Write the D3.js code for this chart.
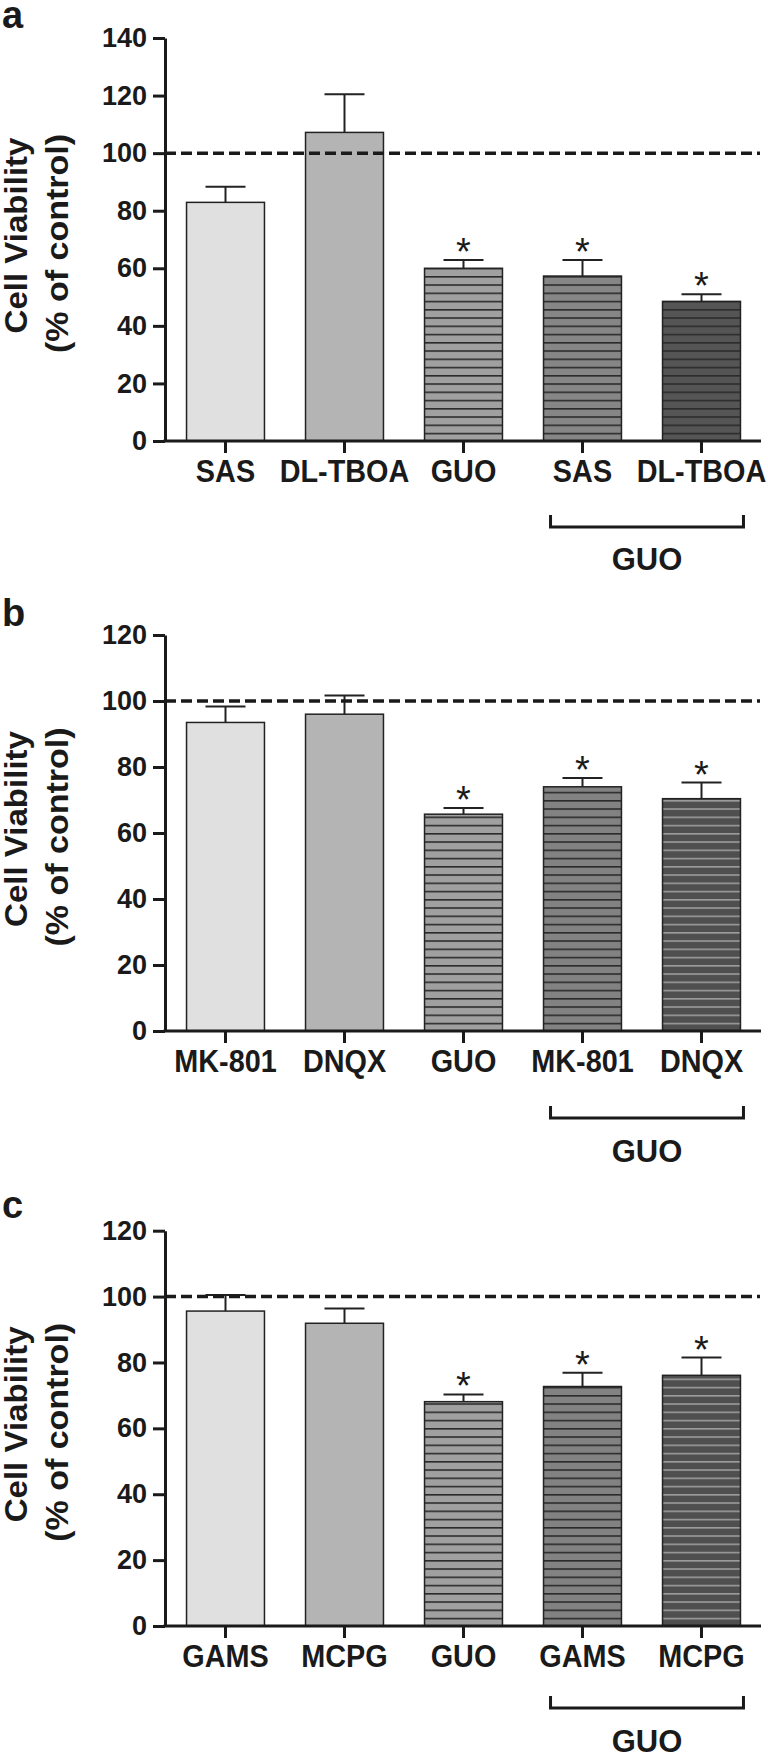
<!DOCTYPE html>
<html>
<head>
<meta charset="utf-8">
<script src="https://d3js.org/d3.v7.min.js"></script>
<style>
  body { margin: 0; background: #fff; }
  svg text { font-family: "Liberation Sans", Arial, sans-serif; font-weight: bold; fill: #1a1a1a; }
</style>
</head>
<body>
<div id="container"></div>
<script>
// ---- data ----
const labelsA = ['SAS', 'DL-TBOA', 'GUO', 'SAS', 'DL-TBOA'];
const meanA = [82.9, 107.2, 60.0, 57.3, 48.5];
const semA = [5.4, 13.3, 2.9, 5.6, 2.5];

const labelsB = ['MK-801', 'DNQX', 'GUO', 'MK-801', 'DNQX'];
const meanB = [93.5, 96.0, 65.7, 74.0, 70.4];
const semB = [4.8, 5.7, 1.9, 2.7, 4.9];

const labelsC = ['GAMS', 'MCPG', 'GUO', 'GAMS', 'MCPG'];
const meanC = [95.6, 91.9, 68.1, 72.7, 76.1];
const semC = [4.9, 4.5, 2.2, 4.2, 5.4];

const starred = [false, false, true, true, true];
const ticksA = [0, 20, 40, 60, 80, 100, 120, 140];
const ticksBC = [0, 20, 40, 60, 80, 100, 120];
const controlLevel = 100;
const groupLabel = 'GUO';
const yTitle1 = 'Cell Viability';
const yTitle2 = '(% of control)';

const w = 768, h = 1758;
const axisX = 165;
const squeeze = 0.93;   // category labels are a little condensed in the figure

const svg = d3.select('#container').append('svg')
    .attr('width', w)
    .attr('height', h);

const panels = [
    {id: 'a', labels: labelsA, mean: meanA, sem: semA, ticks: ticksA, top: 38, base: 441, letterY: 28,
     brk: 86, grp: 129,
     fills: ['#e0e0e0', '#b4b4b4', '#a0a0a0', '#868686', '#555555'],
     stripes: [null, null, '#2b2b2b', '#2b2b2b', '#2b2b2b']},
    {id: 'b', labels: labelsB, mean: meanB, sem: semB, ticks: ticksBC, top: 635, base: 1031, letterY: 626,
     brk: 87, grp: 131,
     fills: ['#e0e0e0', '#b4b4b4', '#a0a0a0', '#828282', '#4f4f4f'],
     stripes: [null, null, '#2b2b2b', '#2b2b2b', '#9c9c9c']},
    {id: 'c', labels: labelsC, mean: meanC, sem: semC, ticks: ticksBC, top: 1230.7, base: 1626, letterY: 1218,
     brk: 82, grp: 126,
     fills: ['#e0e0e0', '#b4b4b4', '#a0a0a0', '#828282', '#4f4f4f'],
     stripes: [null, null, '#2b2b2b', '#2b2b2b', '#9c9c9c']}
];

const defs = svg.append('defs');

panels.forEach(p => {
    const g = svg.append('g');
    const idx = d3.range(p.labels.length);

    const xScale = d3.scaleBand()
        .domain(idx)
        .range([166, 761])
        .paddingInner(0.345)
        .paddingOuter(0.1725);
    const yScale = d3.scaleLinear()
        .domain([0, d3.max(p.ticks)])
        .range([p.base, p.top]);

    // striped fills, tiles start at the baseline
    idx.forEach(i => {
        if (!p.stripes[i]) return;
        const pat = defs.append('pattern')
            .attr('id', 'st-' + p.id + i)
            .attr('patternUnits', 'userSpaceOnUse')
            .attr('x', 0)
            .attr('y', p.base)
            .attr('width', 20)
            .attr('height', 8.25);
        pat.append('rect').attr('width', 20).attr('height', 8.25).attr('fill', p.fills[i]);
        pat.append('rect').attr('y', 0).attr('width', 20).attr('height', 1.6).attr('fill', p.stripes[i]);
    });

    // bars
    g.selectAll('rect.bar')
        .data(idx)
        .enter()
        .append('rect')
        .attr('class', 'bar')
        .attr('x', i => xScale(i))
        .attr('width', xScale.bandwidth())
        .attr('y', i => yScale(p.mean[i]))
        .attr('height', i => yScale(0) - yScale(p.mean[i]))
        .attr('fill', i => p.stripes[i] ? 'url(#st-' + p.id + i + ')' : p.fills[i])
        .attr('stroke', '#222')
        .attr('stroke-width', 1.5);

    // error bars (upper only)
    const cx = i => xScale(i) + xScale.bandwidth() / 2;
    g.selectAll('line.err')
        .data(idx)
        .enter()
        .append('line')
        .attr('x1', cx).attr('x2', cx)
        .attr('y1', i => yScale(p.mean[i]))
        .attr('y2', i => yScale(p.mean[i] + p.sem[i]))
        .attr('stroke', '#222').attr('stroke-width', 2);
    g.selectAll('line.cap')
        .data(idx)
        .enter()
        .append('line')
        .attr('x1', i => cx(i) - 20).attr('x2', i => cx(i) + 20)
        .attr('y1', i => yScale(p.mean[i] + p.sem[i]))
        .attr('y2', i => yScale(p.mean[i] + p.sem[i]))
        .attr('stroke', '#222').attr('stroke-width', 2);

    // asterisks
    g.selectAll('text.star')
        .data(idx.filter(i => starred[i]))
        .enter()
        .append('text')
        .attr('x', cx)
        .attr('y', i => yScale(p.mean[i] + p.sem[i]) + 5)
        .attr('text-anchor', 'middle')
        .style('font-size', '38px')
        .style('font-weight', 'normal')
        .text('*');

    // control level
    g.append('line')
        .attr('x1', axisX).attr('x2', 760)
        .attr('y1', yScale(controlLevel)).attr('y2', yScale(controlLevel))
        .attr('stroke', '#1a1a1a')
        .attr('stroke-width', 3.5)
        .attr('stroke-dasharray', '11,5');

    // axes
    const yAxis = d3.axisLeft(yScale).tickValues(p.ticks).tickSize(12).tickSizeOuter(0).tickPadding(6);
    const ya = g.append('g').attr('transform', 'translate(' + axisX + ',0)').call(yAxis);
    ya.select('.domain').attr('stroke', '#1a1a1a').attr('stroke-width', 3);
    ya.selectAll('.tick line').attr('stroke', '#1a1a1a').attr('stroke-width', 3);
    ya.selectAll('.tick text').style('font-size', '27px').attr('fill', '#1a1a1a');

    const xAxis = d3.axisBottom(xScale).tickSize(12).tickSizeOuter(0).tickPadding(7)
        .tickFormat(i => p.labels[i]);
    const xa = g.append('g').attr('transform', 'translate(0,' + p.base + ')').call(xAxis);
    xa.select('.domain').attr('d', 'M' + (axisX - 1.5) + ',0H761').attr('stroke', '#1a1a1a').attr('stroke-width', 3);
    xa.selectAll('.tick line').attr('stroke', '#1a1a1a').attr('stroke-width', 3);
    xa.selectAll('.tick text')
        .style('font-size', '31px')
        .attr('fill', '#1a1a1a')
        .attr('transform', 'scale(' + squeeze + ',1)');

    // bracket under the GUO-combined groups
    const bx1 = xScale(3) + 7;
    const bx2 = xScale(4) + xScale.bandwidth() + 3;
    g.append('path')
        .attr('d', 'M' + bx1 + ',' + (p.base + p.brk - 12) + 'V' + (p.base + p.brk) + 'H' + bx2 + 'V' + (p.base + p.brk - 12))
        .attr('fill', 'none')
        .attr('stroke', '#1a1a1a')
        .attr('stroke-width', 3);
    g.append('text')
        .attr('x', (bx1 + bx2) / 2)
        .attr('y', p.base + p.grp)
        .attr('text-anchor', 'middle')
        .style('font-size', '31px')
        .text(groupLabel);

    // y title (stretched along its length like the figure)
    const midY = (p.base + p.top) / 2;
    g.append('text')
        .attr('transform', 'translate(27,' + (midY - 4) + ') rotate(-90)')
        .attr('text-anchor', 'middle')
        .attr('textLength', 196)
        .attr('lengthAdjust', 'spacingAndGlyphs')
        .style('font-size', '31px')
        .text(yTitle1);
    g.append('text')
        .attr('transform', 'translate(68,' + (midY + 4) + ') rotate(-90)')
        .attr('text-anchor', 'middle')
        .attr('textLength', 219)
        .attr('lengthAdjust', 'spacingAndGlyphs')
        .style('font-size', '31px')
        .text(yTitle2);

    // panel letter
    svg.append('text')
        .attr('x', 2)
        .attr('y', p.letterY)
        .style('font-size', '38px')
        .text(p.id);
});
</script>
</body>
</html>
